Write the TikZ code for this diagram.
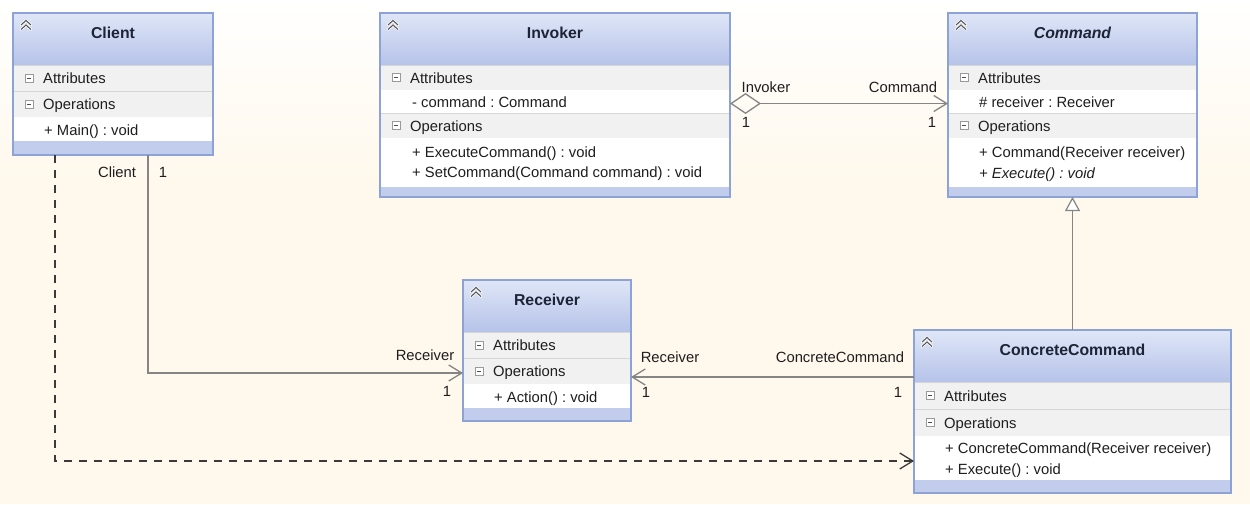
\documentclass[tikz,border=0pt]{standalone}
\usepackage{fontspec}
\setmainfont{Liberation Sans}
\usetikzlibrary{arrows.meta}
\frenchspacing
\definecolor{bgcream}{HTML}{FFF8EC}
\definecolor{hdrtop}{HTML}{DFE6F7}
\definecolor{hdrbot}{HTML}{B6C3E9}
\definecolor{bandc}{HTML}{C2CCEC}
\definecolor{framec}{HTML}{8DA2D5}
\definecolor{sectc}{HTML}{F1F1F1}
\definecolor{sepc}{HTML}{D6D6D6}
\definecolor{txtc}{HTML}{1E1E1E}
\definecolor{titlec}{HTML}{1C2436}
\definecolor{linec}{HTML}{858585}
\definecolor{dashc}{HTML}{3A3A3A}
\definecolor{iconc}{HTML}{9A9A9A}
\newcommand\rowfont{\fontsize{14.8}{18}\selectfont}
\newcommand\titlefont{\fontsize{15.8}{18}\selectfont\bfseries}
\tikzset{
  classbox/.style={rectangle, inner sep=0pt, outer sep=0pt, draw=none},
  frameline/.style={draw=framec, line width=1.3pt},
  sepline/.style={draw=sepc, line width=0.8pt},
  rowtext/.style={anchor=base west, inner sep=0pt, font=\rowfont, text=txtc},
  classtitle/.style={anchor=base, inner sep=0pt, font=\titlefont, text=titlec},
  lbl/.style={inner sep=0pt, font=\rowfont, text=txtc},
  iconbox/.style={draw=iconc, fill=white, line width=0.7pt},
  iconminus/.style={draw=black!70, line width=0.9pt},
  chev/.style={draw=black!65, line width=1.1pt},
  assoc/.style={draw=linec, line width=1.1pt, -{Straight Barb[length=13pt,width=16pt,line width=1.3pt]}},
  aggr/.style={draw=linec, line width=1.1pt, {Diamond[open,length=31pt,width=21pt,line width=1.3pt]}-{Straight Barb[length=13pt,width=16pt,line width=1.3pt]}},
  gen/.style={draw=linec, line width=1.1pt, -{Triangle[fill=white,length=14pt,width=15pt,line width=1.2pt]}},
  dep/.style={draw=dashc, line width=1.1pt, dash pattern=on 8pt off 7pt, -{Straight Barb[length=13pt,width=16pt,line width=1.3pt]}},
}
% #1 name, #2 x, #3 y, #4 w, #5 h, #6 title
\newcommand\umlclass[6]{%
  \node[classbox, minimum width=#4pt, minimum height=#5pt] (#1) at (#2+#4/2,#3+#5/2) {};
  \fill[bandc] (#2,#3) rectangle (#2+#4,#3+#5);
  \shade[top color=hdrtop,bottom color=hdrbot] (#2,#3) rectangle (#2+#4,#3+52);
  \node[classtitle] (#1-title) at (#2+#4/2,#3+25.5) {#6};
  \draw[white, line width=2.6pt, line cap=round, line join=round] (#2+8,#3+12) -- (#2+13,#3+7.5) -- (#2+18,#3+12) (#2+8,#3+16.5) -- (#2+13,#3+12) -- (#2+18,#3+16.5);
  \draw[chev] (#2+8,#3+12) -- (#2+13,#3+7.5) -- (#2+18,#3+12) (#2+8,#3+16.5) -- (#2+13,#3+12) -- (#2+18,#3+16.5);
}
% #1 name, #2 x, #3 y1, #4 y2, #5 w, #6 label
\newcommand\sectrow[6]{%
  \fill[sectc] (#2,#3) rectangle (#2+#5,#4);
  \draw[sepline] (#2,#3) -- (#2+#5,#3);
  \draw[iconbox] (#2+12,#3/2+#4/2-4) rectangle (#2+20,#3/2+#4/2+4);
  \draw[iconminus] (#2+14,#3/2+#4/2) -- (#2+18,#3/2+#4/2);
  \node[rowtext] (#1) at (#2+30,#3/2+#4/2+5.5) {#6};
}
% #1 x, #2 y1, #3 y2, #4 w
\newcommand\itemrow[4]{\fill[white] (#1,#2) rectangle (#1+#4,#3);}
\begin{document}
\begin{tikzpicture}[x=1pt,y=-1pt]
\useasboundingbox (0,0) rectangle (1250,504);
\fill[bgcream] (0,0) rectangle (1250,504);
\shade[top color=white,bottom color=bgcream] (0,0) rectangle (1250,190);

% Client
\umlclass{client}{13}{13}{200}{142}{Client}
\sectrow{client-attr}{13}{65}{91}{200}{Attributes}
\sectrow{client-ops}{13}{91}{117}{200}{Operations}
\itemrow{13}{117}{141}{200}
\node[rowtext] (client-op1) at (44,135) {+ Main() : void};
\draw[frameline] (client.north west) rectangle (client.south east);

% Invoker
\umlclass{invoker}{380}{13}{350}{184}{Invoker}
\sectrow{invoker-attr}{380}{65}{90}{350}{Attributes}
\itemrow{380}{90}{113}{350}
\node[rowtext] (invoker-a1) at (412,107) {- command : Command};
\sectrow{invoker-ops}{380}{113}{138}{350}{Operations}
\itemrow{380}{138}{187}{350}
\node[rowtext] (invoker-op1) at (412,157.5) {+ ExecuteCommand() : void};
\node[rowtext] (invoker-op2) at (412,177.5) {+ SetCommand(Command command) : void};
\draw[frameline] (invoker.north west) rectangle (invoker.south east);

% Command
\umlclass{command}{948}{13}{249}{184}{\itshape Command}
\sectrow{command-attr}{948}{65}{90}{249}{Attributes}
\itemrow{948}{90}{113}{249}
\node[rowtext] (command-a1) at (979,107) {\# receiver : Receiver};
\sectrow{command-ops}{948}{113}{138}{249}{Operations}
\itemrow{948}{138}{187}{249}
\node[rowtext] (command-op1) at (979,157.5) {+ Command(Receiver receiver)};
\node[rowtext] (command-op2) at (979,178.5) {\itshape + Execute() : void};
\draw[frameline] (command.north west) rectangle (command.south east);

% Receiver
\umlclass{receiver}{463}{280}{168}{141}{Receiver}
\sectrow{receiver-attr}{463}{332}{358}{168}{Attributes}
\sectrow{receiver-ops}{463}{358}{384}{168}{Operations}
\itemrow{463}{384}{408}{168}
\node[rowtext] (receiver-op1) at (494,402) {+ Action() : void};
\draw[frameline] (receiver.north west) rectangle (receiver.south east);

% ConcreteCommand
\umlclass{cc}{914}{330}{317}{163}{ConcreteCommand}
\sectrow{cc-attr}{914}{382}{409}{317}{Attributes}
\sectrow{cc-ops}{914}{409}{436}{317}{Operations}
\itemrow{914}{436}{480}{317}
\node[rowtext] (cc-op1) at (945,453.5) {+ ConcreteCommand(Receiver receiver)};
\node[rowtext] (cc-op2) at (945,474.5) {+ Execute() : void};
\draw[frameline] (cc.north west) rectangle (cc.south east);

% connectors
\draw[aggr] ([yshift=1.5pt]invoker.east) -- ([yshift=1.5pt]command.west);
\draw[assoc] ([xshift=35pt]client.south) |- ([yshift=-22.5pt]receiver.west);
\draw[assoc] ([yshift=34.5pt]cc.west) -- ([yshift=34.5pt]cc.west -| receiver.east);
\draw[dep] ([xshift=-58pt]client.south) |- ([yshift=-49.5pt]cc.west);
\draw[gen] (cc.north) -- (command.south);

% labels
\node[lbl] (l-inv) at (766,87) {Invoker};
\node[lbl] (l-inv1) at (746,122) {1};
\node[lbl] (l-cmd) at (903,87) {Command};
\node[lbl] (l-cmd1) at (932,122) {1};
\node[lbl] (l-cli) at (117,172) {Client};
\node[lbl] (l-cli1) at (163,172) {1};
\node[lbl] (l-rec) at (425,355) {Receiver};
\node[lbl] (l-rec1) at (447,391) {1};
\node[lbl] (l-rec2) at (670,357) {Receiver};
\node[lbl] (l-rec21) at (646,392) {1};
\node[lbl] (l-cc) at (840,357) {ConcreteCommand};
\node[lbl] (l-cc1) at (898,392) {1};
\end{tikzpicture}
\end{document}
